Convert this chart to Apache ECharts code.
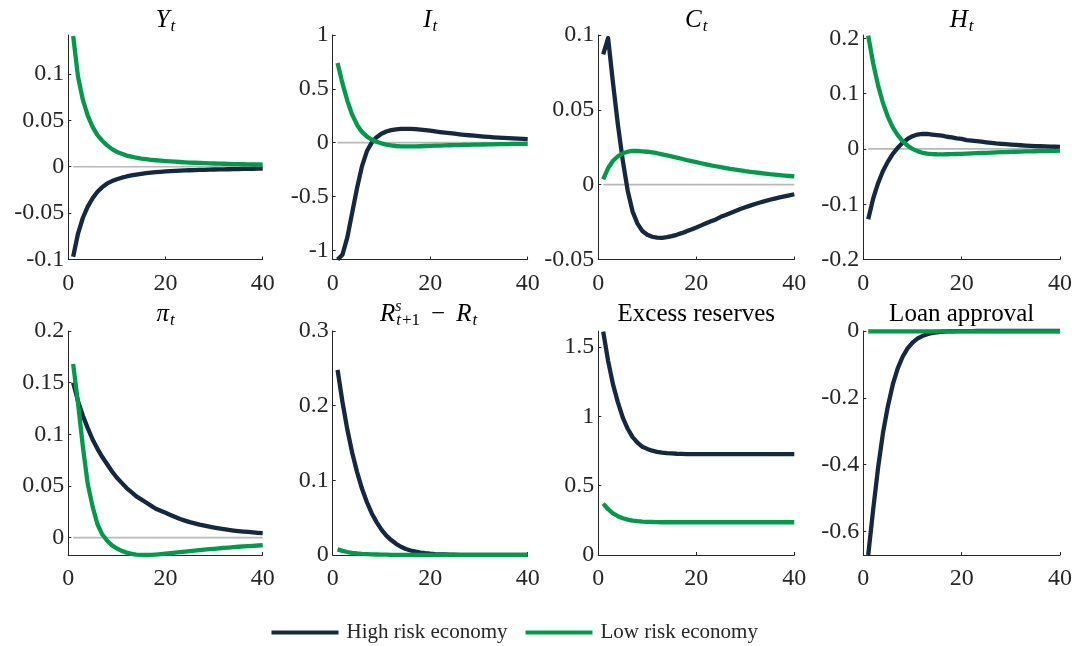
<!DOCTYPE html>
<html><head><meta charset="utf-8">
<script src="https://cdn.jsdelivr.net/npm/echarts@6/dist/echarts.min.js"></script>
<style>html,body{margin:0;padding:0;background:#fff}#c{width:1077px;height:646px}</style>
</head><body><div id="c"></div>
<script>
// ---------- data ----------
const periods = [1,2,3,4,5,6,7,8,9,10,11,12,13,14,15,16,17,18,19,20,21,22,23,24,25,26,27,28,29,30,31,32,33,34,35,36,37,38,39,40];
const xTicks = [0, 20, 40];
const seriesNames = ['High risk economy', 'Low risk economy'];

const Y_high = [-0.097,-0.072,-0.055,-0.043,-0.034,-0.027,-0.022,-0.018,-0.0155,-0.0135,
  -0.0118,-0.0105,-0.0094,-0.0085,-0.0077,-0.0070,-0.0064,-0.0059,-0.0055,-0.0051,
  -0.0048,-0.0045,-0.0042,-0.0040,-0.0038,-0.0036,-0.0034,-0.0033,-0.0031,-0.0030,
  -0.0029,-0.0028,-0.0027,-0.0026,-0.0025,-0.0024,-0.0023,-0.0022,-0.0021,-0.0020];
const Y_low = [0.141,0.097,0.072,0.055,0.043,0.034,0.028,0.023,0.019,0.016,
  0.014,0.012,0.0108,0.0097,0.0088,0.0081,0.0075,0.0070,0.0065,0.0061,
  0.0058,0.0054,0.0051,0.0048,0.0045,0.0043,0.0041,0.0039,0.0037,0.0035,
  0.0033,0.0032,0.0030,0.0029,0.0028,0.0027,0.0026,0.0025,0.0024,0.0023];
const Y_ticks = [-0.1,-0.05,0,0.05,0.1];

const I_high = [-1.085,-1.04,-0.88,-0.65,-0.42,-0.22,-0.08,0.0,0.05,0.083,
  0.104,0.117,0.124,0.128,0.129,0.128,0.125,0.121,0.116,0.111,
  0.105,0.099,0.093,0.088,0.083,0.078,0.073,0.069,0.065,0.061,
  0.057,0.054,0.050,0.047,0.044,0.042,0.039,0.037,0.035,0.033];
const I_low = [0.74,0.55,0.39,0.26,0.165,0.10,0.058,0.028,0.008,-0.006,
  -0.018,-0.026,-0.031,-0.034,-0.035,-0.035,-0.034,-0.033,-0.031,-0.030,
  -0.028,-0.027,-0.026,-0.024,-0.023,-0.022,-0.021,-0.020,-0.019,-0.018,
  -0.017,-0.016,-0.015,-0.014,-0.013,-0.013,-0.012,-0.011,-0.011,-0.010];
const I_ticks = [-1,-0.5,0,0.5,1];

const C_high = [0.087,0.098,0.068,0.040,0.016,-0.004,-0.018,-0.026,-0.031,-0.0335,
  -0.0348,-0.0354,-0.0355,-0.0351,-0.0344,-0.0335,-0.0324,-0.0312,-0.0299,-0.0286,
  -0.0272,-0.0258,-0.0245,-0.0232,-0.0215,-0.0202,-0.0189,-0.0176,-0.0163,-0.0151,
  -0.0140,-0.0129,-0.0119,-0.0110,-0.0101,-0.0093,-0.0085,-0.0078,-0.0071,-0.0064];
const C_low = [0.0035,0.011,0.016,0.019,0.021,0.022,0.0225,0.0225,0.0223,0.022,
  0.0215,0.021,0.0203,0.0196,0.0189,0.0181,0.0173,0.0165,0.0157,0.015,
  0.0143,0.0136,0.0129,0.0123,0.0117,0.0111,0.0105,0.010,0.0095,0.009,
  0.0086,0.0082,0.0078,0.0074,0.007,0.0067,0.0064,0.0061,0.0058,0.0055];
const C_ticks = [-0.05,0,0.05,0.1];

const H_high = [-0.127,-0.09,-0.062,-0.040,-0.023,-0.009,0.002,0.011,0.018,0.023,
  0.026,0.027,0.027,0.026,0.025,0.024,0.022,0.021,0.019,0.018,
  0.016,0.015,0.014,0.013,0.012,0.011,0.010,0.0092,0.0085,0.0078,
  0.0072,0.0066,0.0061,0.0056,0.0052,0.0048,0.0045,0.0042,0.0039,0.0036];
const H_low = [0.205,0.155,0.115,0.083,0.058,0.039,0.025,0.014,0.006,0.0,
  -0.004,-0.007,-0.0085,-0.0093,-0.0097,-0.0098,-0.0097,-0.0095,-0.0092,-0.0088,
  -0.0085,-0.0081,-0.0078,-0.0074,-0.007,-0.0067,-0.0064,-0.006,-0.0057,-0.0054,
  -0.0051,-0.0049,-0.0046,-0.0044,-0.0042,-0.004,-0.0038,-0.0036,-0.0034,-0.0032];
const H_ticks = [-0.2,-0.1,0,0.1,0.2];

const Pi_high = [0.15,0.132,0.118,0.106,0.095,0.086,0.078,0.071,0.064,0.058,
  0.053,0.048,0.044,0.040,0.037,0.034,0.031,0.028,0.026,0.024,
  0.022,0.020,0.018,0.0165,0.015,0.0138,0.0126,0.0116,0.0106,0.0097,
  0.0089,0.0082,0.0075,0.0069,0.0064,0.0059,0.0055,0.0051,0.0047,0.0044];
const Pi_low = [0.168,0.13,0.088,0.052,0.030,0.013,0.003,-0.003,-0.0075,-0.0105,
  -0.0128,-0.0145,-0.0157,-0.0164,-0.0167,-0.0168,-0.0167,-0.0164,-0.016,-0.0156,
  -0.0151,-0.0146,-0.0141,-0.0136,-0.0131,-0.0126,-0.0121,-0.0117,-0.0112,-0.0108,
  -0.0104,-0.010,-0.0096,-0.0092,-0.0088,-0.0085,-0.0082,-0.0079,-0.0076,-0.0073];
const Pi_ticks = [0,0.05,0.1,0.15,0.2];

const R_high = [0.248,0.205,0.168,0.137,0.111,0.089,0.071,0.056,0.044,0.034,
  0.026,0.020,0.015,0.011,0.008,0.006,0.0045,0.0033,0.0024,0.0017,
  0.0012,0.0009,0.0007,0.0005,0.0004,0.0003,0.0002,0.0002,0.0001,0.0001,
  0.0001,0.0001,0.0001,0.0001,0.0001,0.0001,0.0001,0.0001,0.0001,0.0001];
const R_low = [0.0075,0.0055,0.004,0.003,0.0022,0.0016,0.0012,0.0009,0.0007,0.0005,
  0.0004,0.0003,0.0002,0.0002,0.0001,0.0001,0.0001,0.0001,0.0001,0.0001,
  0.0001,0.0001,0.0001,0.0001,0.0001,0.0001,0.0001,0.0001,0.0001,0.0001,
  0.0001,0.0001,0.0001,0.0001,0.0001,0.0001,0.0001,0.0001,0.0001,0.0001];
const R_ticks = [0,0.1,0.2,0.3];

const ER_high = [1.61,1.40,1.23,1.10,0.99,0.91,0.85,0.81,0.78,0.765,
  0.752,0.744,0.738,0.734,0.732,0.730,0.729,0.728,0.728,0.727,
  0.727,0.727,0.727,0.727,0.727,0.727,0.727,0.727,0.727,0.727,
  0.727,0.727,0.727,0.727,0.727,0.727,0.727,0.727,0.727,0.727];
const ER_low = [0.37,0.33,0.30,0.28,0.265,0.255,0.248,0.244,0.241,0.239,
  0.238,0.237,0.236,0.236,0.236,0.236,0.236,0.236,0.236,0.236,
  0.236,0.236,0.236,0.236,0.236,0.236,0.236,0.236,0.236,0.236,
  0.236,0.236,0.236,0.236,0.236,0.236,0.236,0.236,0.236,0.236];
const ER_ticks = [0,0.5,1,1.5];

const LA_high = [-0.67,-0.535,-0.41,-0.305,-0.225,-0.16,-0.112,-0.077,-0.052,-0.035,
  -0.023,-0.015,-0.0095,-0.006,-0.0037,-0.0022,-0.0013,-0.0007,-0.0004,-0.0002,
  -0.0001,-0.0001,0,0,0,0,0,0,0,0,
  0,0,0,0,0,0,0,0,0,0];
const LA_low = [-0.001,-0.001,-0.001,-0.001,-0.001,-0.001,-0.001,-0.001,-0.001,-0.001,
  -0.001,-0.001,-0.001,-0.001,-0.001,-0.001,-0.001,-0.001,-0.001,-0.001,
  -0.001,-0.001,-0.001,-0.001,-0.001,-0.001,-0.001,-0.001,-0.001,-0.001,
  -0.001,-0.001,-0.001,-0.001,-0.001,-0.001,-0.001,-0.001,-0.001,-0.001];
const LA_ticks = [-0.6,-0.4,-0.2,0];

// ---------- panels ----------
const panels = [
  {high:Y_high, low:Y_low, ticks:Y_ticks, min:-0.1, max:0.142, zero:true},
  {high:I_high, low:I_low, ticks:I_ticks, min:-1.085, max:1, zero:true},
  {high:C_high, low:C_low, ticks:C_ticks, min:-0.05, max:0.1, zero:true},
  {high:H_high, low:H_low, ticks:H_ticks, min:-0.2, max:0.206, zero:true},
  {high:Pi_high, low:Pi_low, ticks:Pi_ticks, min:-0.0168, max:0.2, zero:true},
  {high:R_high, low:R_low, ticks:R_ticks, min:0, max:0.3, zero:false},
  {high:ER_high, low:ER_low, ticks:ER_ticks, min:0, max:1.615, zero:false},
  {high:LA_high, low:LA_low, ticks:LA_ticks, min:-0.67, max:0, zero:false}
];

const colLeft = [68.3, 332.7, 598.3, 863.3];
const colWidth = [194.4, 195, 196, 196.7];
const rowTop = [35, 331];
const rowHeight = [224.5, 224];

const DARK = '#142840', GREEN = '#009b4a', AX = '#262626';
const FONT = 'Liberation Serif';

const grid = [], xAxis = [], yAxis = [], series = [];
panels.forEach((p, k) => {
  const r = Math.floor(k / 4), c = k % 4;
  grid.push({left: colLeft[c], top: rowTop[r], width: colWidth[c], height: rowHeight[r], containLabel: false});
  xAxis.push({
    type: 'value', gridIndex: k, min: 0, max: 40,
    axisLine: {show: true, onZero: false, lineStyle: {color: AX, width: 1}},
    axisTick: {show: true, inside: true, length: 3, customValues: xTicks, lineStyle: {color: AX}},
    axisLabel: {customValues: xTicks, margin: 12, color: AX, fontFamily: FONT, fontSize: 24},
    splitLine: {show: false}
  });
  yAxis.push({
    type: 'value', gridIndex: k, min: p.min, max: p.max,
    axisLine: {show: true, onZero: false, lineStyle: {color: AX, width: 1}},
    axisTick: {show: true, inside: true, length: 3, customValues: p.ticks, lineStyle: {color: AX}},
    axisLabel: {customValues: p.ticks, margin: 4, color: AX, fontFamily: FONT, fontSize: 24,
      formatter: v => String(Math.round(v * 1000) / 1000)},
    splitLine: {show: false}
  });
  if (p.zero) {
    series.push({
      type: 'line', name: 'zero', xAxisIndex: k, yAxisIndex: k, z: 1, silent: true,
      showSymbol: false, symbol: 'none', clip: false,
      data: [[periods[0], 0], [periods[periods.length - 1], 0]],
      lineStyle: {color: '#b8b8b8', width: 1.6}
    });
  }
  [[p.high, seriesNames[0], DARK], [p.low, seriesNames[1], GREEN]].forEach(([arr, nm, col], j) => {
    series.push({
      type: 'line', name: nm, xAxisIndex: k, yAxisIndex: k, z: 2 + j,
      showSymbol: false, symbol: 'none', clip: false, animation: false,
      data: periods.map((t, i) => [t, arr[i]]),
      itemStyle: {color: col},
      lineStyle: {color: col, width: 4.3, cap: 'butt', join: 'round'}
    });
  });
});

// ---------- titles ----------
const rich = {
  i: {fontFamily: FONT, fontStyle: 'italic', fontSize: 25, color: AX, verticalAlign: 'middle'},
  n: {fontFamily: FONT, fontSize: 25, color: AX, verticalAlign: 'middle'},
  sub: {fontFamily: FONT, fontStyle: 'italic', fontSize: 17, color: AX, verticalAlign: 'middle', padding: [13, 0, 0, 1]},
  subn: {fontFamily: FONT, fontSize: 17, color: AX, verticalAlign: 'middle', padding: [13, 0, 0, 1]},
  op: {fontFamily: FONT, fontSize: 25, color: AX, verticalAlign: 'middle', padding: [0, 11, 0, 11]}
};
const titleTexts = ['{i|Y}{sub|t}', '{i|I}{sub|t}', '{i|C}{sub|t}', '{i|H}{sub|t}',
  '{i|π}{sub|t}', null, '{n|Excess reserves}', '{n|Loan approval}'];
const titleY = [20.5, 314.5];
const graphic = [];
titleTexts.forEach((tx, k) => {
  const r = Math.floor(k / 4), c = k % 4;
  if (!tx) return;
  graphic.push({type: 'text', x: colLeft[c] + colWidth[c] / 2, y: titleY[r], silent: true,
    style: {text: tx, rich: rich, align: 'center', verticalAlign: 'middle'}});
});
// R^s_{t+1} - R_t
graphic.push({type: 'text', x: 380, y: titleY[1], silent: true,
  style: {text: '{i|R}{sub|t}{subn|+1}{op|−}{i|R}{sub|t}', rich: rich, align: 'left', verticalAlign: 'middle'}});
graphic.push({type: 'text', x: 395, y: titleY[1] - 8, silent: true,
  style: {text: 's', fontFamily: FONT, fontStyle: 'italic', fontSize: 17, fill: AX, align: 'left', verticalAlign: 'middle'}});

const option = {
  animation: false,
  backgroundColor: '#ffffff',
  grid, xAxis, yAxis, series, graphic,
  legend: {
    data: seriesNames, left: 271.5, top: 622, padding: 0,
    icon: 'rect', itemWidth: 67, itemHeight: 4, itemGap: 18,
    textStyle: {fontFamily: FONT, fontSize: 21, color: AX, padding: [0, 0, 0, 3]},
    selectedMode: false
  }
};
const chart = echarts.init(document.getElementById('c'), null, {renderer: 'canvas'});
chart.setOption(option);
</script></body></html>
